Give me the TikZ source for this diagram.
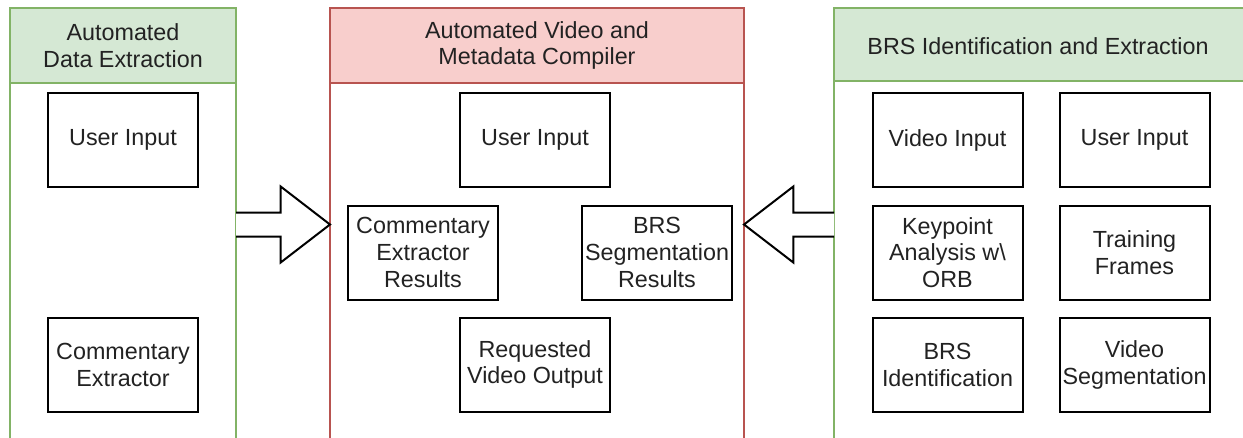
\documentclass[tikz,border=0pt]{standalone}
\usepackage{fontspec}
\setmainfont{Liberation Sans}
\definecolor{gfill}{HTML}{D5E8D4}
\definecolor{gline}{HTML}{82B366}
\definecolor{rfill}{HTML}{F8CECC}
\definecolor{rline}{HTML}{B85450}
\definecolor{txt}{HTML}{222222}
\tikzset{
  every node/.style={font=\fontsize{17.5pt}{20pt}\selectfont, text=txt},
  stepbox/.style={draw=black, line width=1.5pt, fill=white, minimum width=112.5pt,
    minimum height=70.5pt, inner sep=0pt, align=center},
  gcont/.style={draw=gline, line width=1pt, fill=white},
  ghead/.style={draw=gline, line width=1pt, fill=gfill},
  rcont/.style={draw=rline, line width=1pt, fill=white},
  rhead/.style={draw=rline, line width=1pt, fill=rfill},
  headtxt/.style={align=center, inner sep=0pt},
  blockarrow/.style={draw=black, line width=1.5pt, fill=white, line join=miter}
}
\begin{document}
\begin{tikzpicture}[x=0.75pt, y=-0.75pt]
\useasboundingbox (0,0) rectangle (1243,437);
\clip (0,0) rectangle (1243,437);
\fill[white] (0,0) rectangle (1243,437);
% left container
\draw[gcont] (10,8) rectangle (236,445);
\draw[ghead] (10,8) rectangle (236,83);
\node[headtxt] (h1) at (123,45.5) {Automated\\Data Extraction};
% middle container
\draw[rcont] (330,8) rectangle (744,445);
\draw[rhead] (330,8) rectangle (744,83);
\node[headtxt] (h2) at (537,45.5) {Automated Video and\\Metadata Compiler};
% right container
\draw[gcont] (834,8) rectangle (1250,445);
\draw[ghead] (834,8) rectangle (1250,81);
\node[headtxt] (h3) at (1038,46) {BRS Identification and Extraction};
% left boxes
\node[stepbox] (lui) at (123,140) {User Input};
\node[stepbox] (lce) at (123,365) {Commentary\\Extractor};
% middle boxes
\node[stepbox] (mui) at (535,140) {User Input};
\node[stepbox] (mcr) at (423,252.5) {Commentary\\Extractor\\Results};
\node[stepbox] (mbr) at (657,252.5) {BRS\\Segmentation\\Results};
\node[stepbox] (mvo) at (535,364.5) {Requested\\Video Output};
% right boxes
\node[stepbox] (rvi) at (947.5,140) {Video Input};
\node[stepbox] (rui) at (1134.5,140) {User Input};
\node[stepbox] (rka) at (947.5,252.5) {Keypoint\\Analysis w\textbackslash\\ORB};
\node[stepbox] (rtf) at (1134.5,252.5) {Training\\Frames};
\node[stepbox] (rbi) at (947.5,365) {BRS\\Identification};
\node[stepbox] (rvs) at (1134.5,365) {Video\\Segmentation};
% block arrows
\coordinate (a1s) at (236,224.5);
\coordinate (a1t) at (330,224.5);
\draw[blockarrow] ([yshift=-9]a1s) -- ([xshift=-37,yshift=-9]a1t) -- ([xshift=-37,yshift=-28.5]a1t)
  -- (a1t) -- ([xshift=-37,yshift=28.5]a1t) -- ([xshift=-37,yshift=9]a1t) -- ([yshift=9]a1s);
\coordinate (a2s) at (834,224.5);
\coordinate (a2t) at (744,224.5);
\draw[blockarrow] ([yshift=-9]a2s) -- ([xshift=37,yshift=-9]a2t) -- ([xshift=37,yshift=-28.5]a2t)
  -- (a2t) -- ([xshift=37,yshift=28.5]a2t) -- ([xshift=37,yshift=9]a2t) -- ([yshift=9]a2s);
\end{tikzpicture}
\end{document}
